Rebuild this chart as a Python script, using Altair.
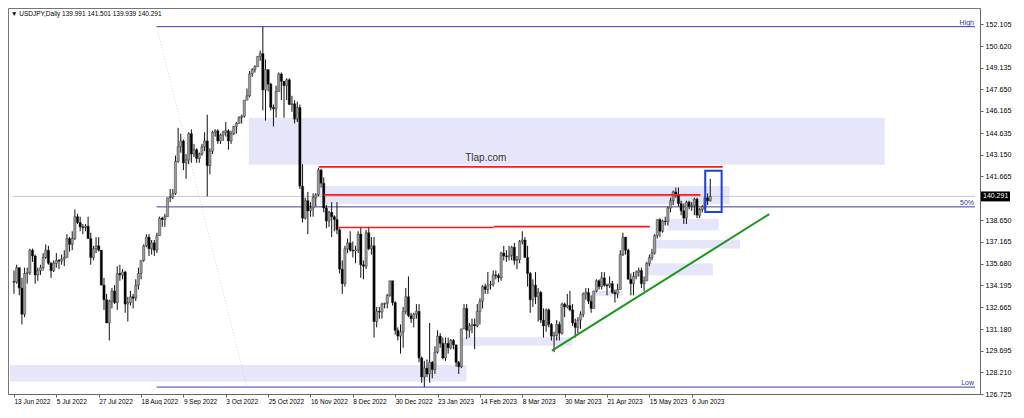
import altair as alt
import numpy as np
import pandas as pd

alt.data_transformers.disable_max_rows()

# ---- daily bars, 13 Jun 2022 .. 15 Jun 2023 (open = previous close) ----
first_open = 134.45
close = [
    134.4, 135.4, 134.0, 132.2, 135.0,
    135.05, 136.6, 136.2, 134.9, 135.2,
    135.4, 136.1, 136.6, 135.7, 135.2,
    135.7, 135.9, 135.85, 136.0, 136.1,
    137.4, 137.0, 137.4, 138.9, 138.5,
    138.2, 138.15, 138.25, 137.4, 136.1,
    136.7, 136.9, 136.6, 134.2, 133.2,
    131.6, 133.1, 133.8, 133.0, 135.0,
    134.9, 135.1, 132.9, 133.0, 133.4,
    133.3, 134.2, 135.0, 135.9, 136.9,
    137.5, 136.7, 137.1, 136.6, 137.6,
    138.8, 138.7, 138.9, 140.2, 140.25,
    140.5, 142.7, 143.7, 144.1, 142.6,
    142.8, 144.6, 143.2, 143.5, 142.9,
    143.2, 143.7, 144.1, 142.4, 143.4,
    144.7, 144.8, 144.1, 144.5, 144.7,
    144.8, 144.1, 144.6, 145.1, 145.3,
    145.7, 145.8, 146.9, 147.2, 148.7,
    149.0, 149.2, 149.9, 150.1, 147.6,
    149.0, 148.0, 146.4, 146.3, 147.5,
    148.7, 148.2, 147.9, 148.3, 146.6,
    146.65, 145.6, 146.4, 141.0, 138.8,
    140.0, 139.3, 139.5, 140.2, 140.4,
    142.1, 141.2, 139.5, 138.6, 139.2,
    138.9, 138.7, 138.0, 135.3, 134.3,
    136.7, 137.1, 136.6, 136.55, 136.62,
    137.7, 135.6, 135.5, 137.8, 136.7,
    136.9, 131.7, 132.4, 132.35, 132.9,
    132.95, 133.5, 134.5, 133.0, 131.1,
    130.7, 131.0, 132.4, 133.4, 132.1,
    131.9, 132.2, 132.4, 129.2, 127.9,
    128.5, 128.1, 128.9, 128.4, 129.6,
    130.7, 130.2, 129.2, 130.2, 129.9,
    130.4, 130.1, 128.9, 128.6, 131.2,
    132.6, 131.1, 131.4, 131.5, 131.4,
    132.4, 133.1, 134.1, 133.9, 134.2,
    134.25, 134.9, 134.85, 134.7, 136.4,
    136.2, 136.15, 136.25, 136.8, 135.9,
    135.95, 137.2, 137.3, 136.1, 135.0,
    133.2, 134.2, 133.4, 133.7, 131.8,
    131.4, 132.5, 131.5, 130.7, 130.75,
    131.5, 130.9, 132.9, 132.7, 132.8,
    132.5, 131.6, 131.3, 131.8, 132.2,
    133.6, 133.7, 133.1, 132.6, 133.8,
    134.5, 134.1, 134.7, 134.2, 134.15,
    134.3, 133.7, 133.6, 133.9, 136.3,
    137.5, 136.6, 134.6, 134.3, 134.8,
    135.1, 135.2, 134.3, 134.5, 135.7,
    136.1, 136.4, 137.6, 138.7, 137.9,
    138.6, 138.55, 139.5, 140.0, 140.6,
    140.4, 139.8, 139.3, 138.8, 139.9,
    139.6, 139.65, 140.1, 139.0, 139.4,
    139.6, 140.2, 139.991, 140.291,
]
high = [
    135.2, 135.6, 135.4, 134.7, 135.4,
    135.4, 136.7, 136.7, 136.3, 135.4,
    135.6, 136.4, 137.0, 136.9, 135.8,
    135.9, 136.4, 136.0, 136.3, 136.6,
    137.7, 137.5, 137.9, 139.4, 139.1,
    138.9, 138.4, 138.4, 138.9, 137.8,
    136.9, 137.5, 137.5, 136.6, 134.7,
    133.6, 133.2, 134.0, 134.2, 135.5,
    135.6, 135.3, 135.2, 133.4, 133.8,
    133.6, 134.6, 135.4, 135.9, 137.0,
    137.7, 137.7, 137.3, 137.3, 137.8,
    138.9, 138.9, 139.1, 140.2, 140.8,
    140.8, 143.1, 145.0, 144.6, 144.2,
    143.2, 144.7, 144.9, 143.9, 143.6,
    143.3, 143.9, 144.7, 145.9, 143.6,
    144.8, 144.9, 144.9, 144.6, 144.8,
    145.4, 144.9, 144.8, 145.1, 145.4,
    145.8, 145.9, 146.9, 147.7, 148.9,
    149.1, 149.3, 149.9, 150.3, 151.95,
    149.7, 149.0, 148.1, 146.6, 147.9,
    148.8, 148.8, 148.2, 148.4, 148.4,
    147.2, 146.9, 146.8, 146.6, 142.5,
    140.2, 140.6, 139.9, 140.5, 140.5,
    142.25, 142.2, 141.6, 139.7, 139.3,
    139.9, 139.0, 139.9, 138.1, 135.9,
    136.9, 137.4, 137.9, 137.2, 136.9,
    137.9, 138.2, 135.9, 138.0, 138.2,
    137.5, 137.5, 132.7, 132.7, 133.0,
    133.0, 133.6, 134.5, 134.4, 133.1,
    131.3, 131.5, 132.7, 134.0, 134.8,
    132.3, 132.3, 132.9, 132.9, 129.3,
    129.0, 129.1, 131.6, 129.0, 130.0,
    131.1, 130.9, 130.6, 130.6, 130.6,
    130.5, 130.5, 130.1, 129.0, 131.2,
    132.9, 132.9, 131.6, 131.9, 131.9,
    132.9, 133.3, 134.2, 134.3, 135.1,
    134.5, 135.2, 135.2, 135.0, 136.5,
    136.9, 136.6, 136.9, 136.9, 137.1,
    136.2, 137.3, 137.9, 137.5, 136.9,
    135.1, 134.6, 135.1, 134.0, 133.8,
    132.6, 132.6, 132.6, 131.6, 131.0,
    131.8, 131.7, 133.0, 133.0, 133.6,
    133.8, 132.9, 131.9, 132.0, 132.4,
    133.7, 134.0, 134.0, 133.5, 133.8,
    134.6, 134.6, 135.1, 135.1, 134.3,
    134.8, 134.5, 133.9, 134.3, 136.6,
    137.8, 137.5, 136.7, 135.0, 135.1,
    135.2, 135.4, 135.4, 134.8, 135.8,
    136.3, 136.7, 137.7, 138.7, 138.8,
    138.7, 138.9, 139.6, 140.2, 140.7,
    140.9, 140.9, 140.0, 139.8, 140.0,
    140.0, 139.9, 140.2, 140.2, 139.5,
    139.7, 140.3, 140.5, 141.501,
]
low = [
    133.6, 134.3, 133.5, 131.5, 132.0,
    134.3, 134.9, 135.8, 134.3, 134.5,
    134.9, 135.2, 136.0, 135.6, 134.7,
    135.1, 135.4, 135.3, 135.6, 135.5,
    136.1, 136.5, 136.6, 137.3, 138.4,
    137.9, 137.7, 137.9, 137.4, 135.6,
    135.9, 136.4, 136.5, 134.2, 132.5,
    131.6, 130.4, 132.6, 132.9, 132.5,
    134.5, 134.6, 132.3, 131.7, 132.8,
    132.6, 133.1, 133.9, 134.6, 135.8,
    136.8, 136.2, 136.3, 136.2, 136.4,
    137.6, 138.2, 138.2, 138.9, 139.9,
    140.1, 140.4, 142.6, 143.3, 142.1,
    141.5, 142.5, 142.6, 143.0, 142.6,
    142.6, 143.1, 143.4, 140.3, 141.8,
    143.2, 144.4, 143.9, 143.9, 144.1,
    144.4, 143.5, 143.9, 144.5, 144.6,
    145.3, 145.3, 145.7, 146.9, 147.1,
    148.5, 148.8, 149.2, 149.6, 146.2,
    145.5, 147.5, 146.2, 145.1, 145.7,
    147.5, 146.9, 145.7, 146.9, 146.6,
    146.1, 145.3, 145.4, 140.8, 138.5,
    138.7, 137.7, 138.9, 138.9, 139.6,
    140.3, 140.9, 139.2, 138.1, 138.2,
    137.5, 137.9, 137.7, 135.0, 133.6,
    134.1, 136.4, 136.5, 136.1, 135.7,
    136.4, 134.7, 134.6, 135.3, 136.6,
    136.3, 130.6, 131.3, 131.9, 131.9,
    132.6, 132.6, 133.4, 132.8, 130.8,
    130.4, 129.5, 129.9, 132.2, 132.0,
    131.6, 131.3, 131.9, 128.9, 127.5,
    127.2, 127.9, 127.5, 127.8, 128.1,
    129.5, 129.9, 129.1, 129.0, 129.5,
    129.8, 129.8, 128.6, 128.1, 128.5,
    131.2, 130.5, 130.6, 130.9, 129.8,
    131.3, 131.5, 132.6, 133.6, 133.6,
    133.9, 134.1, 134.6, 134.4, 134.5,
    135.9, 135.8, 135.9, 135.9, 135.6,
    135.3, 135.7, 137.0, 136.1, 134.1,
    132.3, 132.7, 132.9, 131.7, 131.6,
    130.6, 131.0, 131.3, 130.4, 129.6,
    130.4, 130.4, 130.8, 132.0, 132.6,
    132.4, 131.4, 130.6, 130.9, 131.2,
    132.0, 133.2, 132.9, 132.3, 132.6,
    133.7, 133.9, 133.9, 134.1, 133.5,
    134.0, 133.6, 133.0, 133.3, 133.9,
    136.2, 136.3, 134.6, 133.5, 133.5,
    134.6, 134.8, 134.0, 133.8, 134.5,
    135.5, 135.9, 136.3, 137.4, 137.5,
    137.8, 138.3, 138.3, 139.2, 139.7,
    140.2, 139.6, 139.0, 138.4, 138.4,
    139.4, 139.3, 139.0, 138.8, 138.8,
    139.2, 139.4, 139.7, 139.939,
]

# ---- axis labels ----
date_ticks = [0, 16, 32, 48, 64, 80, 96, 112, 128, 144, 160, 176, 192, 208, 224, 240, 256]
date_labels = ["13 Jun 2022", "5 Jul 2022", "27 Jul 2022", "18 Aug 2022", "9 Sep 2022",
               "3 Oct 2022", "25 Oct 2022", "16 Nov 2022", "8 Dec 2022", "30 Dec 2022",
               "23 Jan 2023", "14 Feb 2023", "8 Mar 2023", "30 Mar 2023", "21 Apr 2023",
               "15 May 2023", "6 Jun 2023"]
price_ticks = [152.105, 150.620, 149.135, 147.650, 146.165, 144.635, 143.150, 141.665,
               138.650, 137.165, 135.680, 134.195, 132.665, 131.180, 129.695, 128.210, 126.725]
last_price = 140.291

# ---- drawn objects (bar index / price) ----
zone_x1 = [88.7, -1.5, 115.5, 168.7, 218.9, 246.8, 240.9, 239.1]
zone_x2 = [328.9, 170.9, 270.3, 210.9, 229.9, 266.2, 274.3, 264.0]
zone_top = [145.69, 128.71, 141.00, 130.62, 133.80, 138.75, 137.30, 135.71]
zone_bot = [142.46, 127.58, 139.75, 130.03, 133.47, 137.96, 136.71, 134.86]

red_x1 = [115.1, 117.0, 122.5, 181.2]
red_x2 = [267.7, 259.3, 181.2, 240.2]
red_y = [142.32, 140.40, 138.16, 138.22]

fib_names = ["High", "50%", "Low"]
fib_prices = [151.95, 139.575, 127.2]
fib_start = 53.9
fib_diag = {"x1": 53.9, "y1": 151.95, "x2": 88.0, "y2": 127.2}

trend = {"x1": 203.2, "y1": 129.70, "x2": 285.3, "y2": 139.08}
box = {"x1": 261.1, "x2": 267.3, "top": 142.06, "bot": 139.22}
watermark = {"x": 178.2, "y": 142.92, "text": "Tlap.com"}

X_MIN, X_MAX = -0.37, 363.0
W, H = 972, 386
FONT = "Liberation Sans"

opens = [first_open] + close[:-1]
o = np.array(opens)
c = np.array(close)
bars = pd.DataFrame({
    "i": np.arange(len(close)),
    "open": o,
    "close": c,
    "high": np.maximum(np.array(high), np.maximum(o, c)),
    "low": np.minimum(np.array(low), np.minimum(o, c)),
})
bars["b0"] = np.minimum(o, c)
bars["b1"] = np.maximum(o, c)
bars["dir"] = np.where(c >= o, "up", "down")

xs = alt.Scale(domain=[X_MIN, X_MAX], nice=False, zero=False)
ys = alt.Scale(domain=[126.725, 153.23], nice=False, zero=False)

label_js = "[" + ",".join("'%s'" % s for s in date_labels) + "]"
x_axis = alt.Axis(values=date_ticks, labelExpr=label_js + "[round(datum.value/16)]",
                  labelAlign="left", labelFontSize=6.5, labelFont=FONT, labelColor="#000",
                  tickSize=3, labelPadding=1, labelFlush=False, labelOverlap=False,
                  domainColor="#666", tickColor="#666", grid=False, title=None)
y_axis = alt.Axis(orient="right", values=price_ticks, format=".3f", labelFontSize=7.2,
                  labelFont=FONT, labelColor="#000", tickSize=3, labelPadding=2,
                  labelOverlap=False, domainColor="#666", tickColor="#666", grid=False,
                  title=None)


def X(f):
    return alt.X(f, type="quantitative", scale=xs, axis=x_axis, title=None)


def Y(f):
    return alt.Y(f, type="quantitative", scale=ys, axis=y_axis, title=None)


zones = pd.DataFrame({"x1": zone_x1, "x2": zone_x2, "top": zone_top, "bot": zone_bot})
zone_layer = alt.Chart(zones).mark_rect(color="#e6e6fa", clip=True).encode(
    x=X("x1"), x2="x2", y=Y("top"), y2="bot")

price_line = alt.Chart(pd.DataFrame({"p": [last_price], "a": [X_MIN], "b": [X_MAX]})).mark_rule(
    color="#c8c8c8", strokeWidth=1).encode(x=X("a"), x2="b", y=Y("p"))

fibs = pd.DataFrame({"name": fib_names, "p": fib_prices, "a": fib_start, "b": X_MAX})
fib_lines = alt.Chart(fibs).mark_rule(color="#3c3ca8", strokeWidth=1).encode(
    x=X("a"), x2="b", y=Y("p"))
fib_text = alt.Chart(fibs).mark_text(align="right", baseline="bottom", dy=-1, dx=-1,
                                     fontSize=7, font=FONT, color="#3434b0").encode(
    x=X("b"), y=Y("p"), text="name")
fib_diag_layer = alt.Chart(pd.DataFrame([fib_diag])).mark_rule(
    color="#f0a0b8", strokeDash=[1, 2], strokeWidth=1, opacity=0.6).encode(
    x=X("x1"), y=Y("y1"), x2="x2", y2="y2")

wicks = alt.Chart(bars).mark_rule(color="#111", strokeWidth=1).encode(
    x=X("i"), y=Y("low"), y2="high")
bodies = alt.Chart(bars).mark_bar(size=2.3, stroke="#222", strokeWidth=0.4).encode(
    x=X("i"), y=Y("b0"), y2="b1",
    color=alt.Color("dir:N", scale=alt.Scale(domain=["up", "down"], range=["#9a9a9a", "#000000"]),
                    legend=None))

reds = pd.DataFrame({"x1": red_x1, "x2": red_x2, "y": red_y})
red_layer = alt.Chart(reds).mark_rule(color="#ff1a1a", strokeWidth=1.6).encode(
    x=X("x1"), x2="x2", y=Y("y"))

trend_layer = alt.Chart(pd.DataFrame([trend])).mark_rule(color="#1e961e", strokeWidth=2).encode(
    x=X("x1"), y=Y("y1"), x2="x2", y2="y2")

box_layer = alt.Chart(pd.DataFrame([box])).mark_rect(
    fillOpacity=0, stroke="#1f3fe0", strokeWidth=2).encode(
    x=X("x1"), x2="x2", y=Y("top"), y2="bot")

wm_layer = alt.Chart(pd.DataFrame([watermark])).mark_text(
    fontSize=10, font=FONT, color="#333").encode(x=X("x"), y=Y("y"), text="text")

header = alt.Chart(pd.DataFrame({"t": ["\u25bc USDJPY,Daily  139.991 141.501 139.939 140.291"]})).mark_text(
    align="left", baseline="middle", fontSize=6.5, font=FONT, color="#000").encode(
    x=alt.value(3), y=alt.value(6), text="t")

tag = pd.DataFrame({"p": [last_price], "top": [last_price + 0.34], "bot": [last_price - 0.34],
                    "t": ["%.3f" % last_price]})
tag_box = alt.Chart(tag).mark_rect(color="#000").encode(
    x=alt.value(W + 1), x2=alt.value(W + 30), y=Y("top"), y2="bot")
tag_text = alt.Chart(tag).mark_text(align="left", baseline="middle", fontSize=7, font=FONT,
                                    color="#fff").encode(x=alt.value(W + 3), y=Y("p"), text="t")

chart = alt.layer(
    zone_layer, price_line, fib_diag_layer, fib_lines, fib_text, wicks, bodies,
    red_layer, trend_layer, box_layer, wm_layer, header, tag_box, tag_text,
).properties(
    width=W, height=H, padding={"left": 0, "top": 0, "right": 2, "bottom": 0},
    background="white",
).configure_view(stroke="#777", strokeWidth=1)

chart.save("out.html", embed_options={"renderer": "svg", "actions": False})
